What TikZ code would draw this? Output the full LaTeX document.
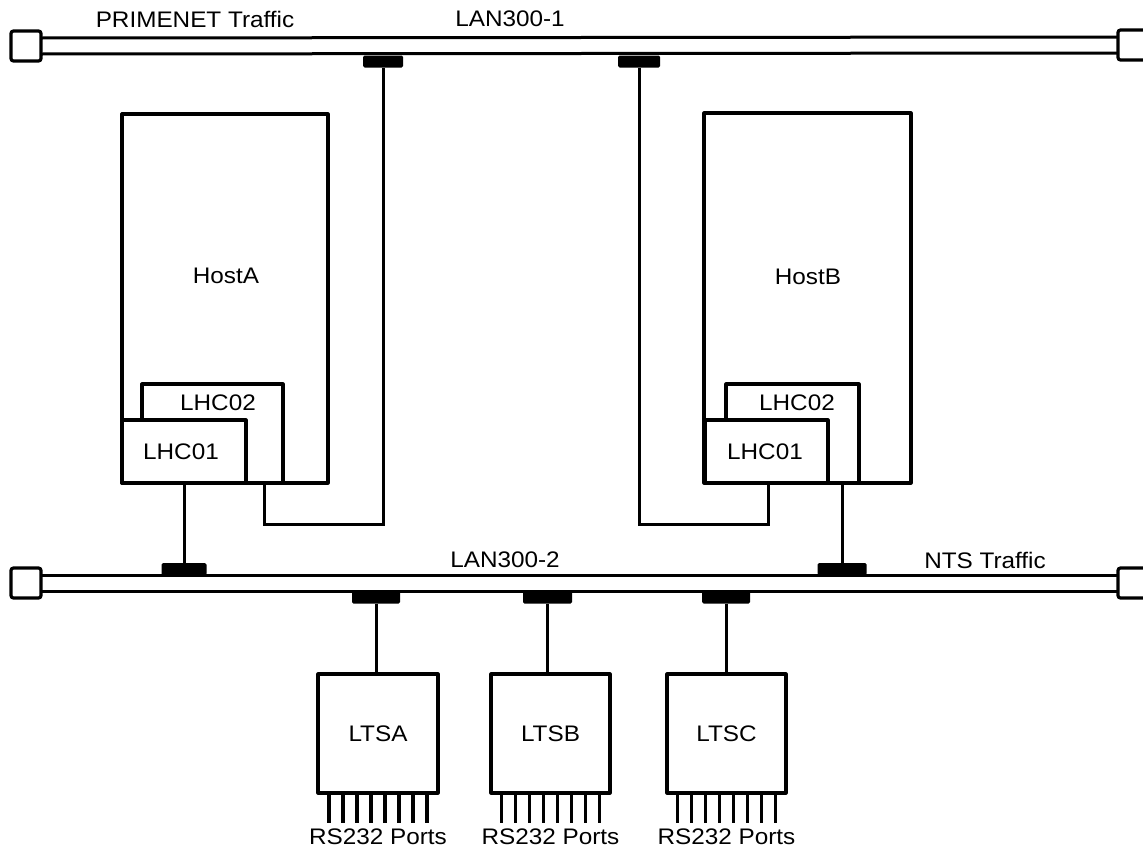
\documentclass[tikz,border=0pt]{standalone}
\usepackage{fontspec}
\setmainfont[FakeStretch=1.08]{Liberation Sans}
\begin{document}
\begin{tikzpicture}[x=1pt,y=-1pt,
  line width=3.2pt,
  box/.style={draw, fill=white, rectangle, inner sep=0pt, outer sep=0pt, anchor=north west, line join=round, font=\fontsize{22.5}{25}\selectfont},
  pad/.style={fill=black, rectangle, rounded corners=1.5pt, minimum height=12pt, inner sep=0pt, outer sep=0pt},
  term/.style={draw, fill=white, rectangle, rounded corners=2.5pt, minimum size=30pt, inner sep=0pt, outer sep=0pt},
  lbl/.style={inner sep=0pt, font=\fontsize{22.5}{25}\selectfont},
  wire/.style={line width=3pt},
  pinwire/.style={line width=3.4pt}
]
\useasboundingbox (0,0) rectangle (1143,854);
\clip (0,0) rectangle (1143,854);

% hosts
\node[box, minimum width=206pt, minimum height=369pt] (hostA) at (122,114) {};
\node[box, minimum width=141pt, minimum height=99pt] (lhcAb) at (142,384) {};
\node[box, minimum width=124pt, minimum height=63pt] (lhcAa) at (122,420) {};
\node[lbl] (hostAt) at (226,276) {HostA};
\node[lbl] (lhcAbt) at (218,403) {LHC02};
\node[lbl] (lhcAat) at (181,452) {LHC01};

\node[box, minimum width=207pt, minimum height=370pt] (hostB) at (704,113) {};
\node[box, minimum width=133pt, minimum height=99pt] (lhcBb) at (726,384) {};
\node[box, minimum width=123pt, minimum height=63pt] (lhcBa) at (705,420) {};
\node[lbl] (hostBt) at (808,277) {HostB};
\node[lbl] (lhcBbt) at (797,403) {LHC02};
\node[lbl] (lhcBat) at (765,452) {LHC01};

% terminators
\node[term] (sqTL) at (26,46) {};
\node[term] (sqTR) at (1133,45) {};
\node[term] (sqBL) at (26,583) {};
\node[term] (sqBR) at (1133,583) {};

% buses
\draw[wire] ([yshift=8pt]sqTL.east) -- ([yshift=8pt]sqTR.west);
\draw[wire] ([yshift=-8pt]sqTL.east) -- ([yshift=-8pt]sqTR.west);
\draw[wire] ([yshift=8pt]sqBL.east) -- ([yshift=8pt]sqBR.west);
\draw[wire] ([yshift=-8pt]sqBL.east) -- ([yshift=-8pt]sqBR.west);

% taps
\node[pad, minimum width=40pt] (padT1) at (383,61.5) {};
\node[pad, minimum width=42pt] (padT2) at (639,61.5) {};
\node[pad, minimum width=45pt] (padBA) at (184,569) {};
\node[pad, minimum width=49pt] (padBB) at (842,569) {};
\node[pad, minimum width=48pt] (padL1) at (376,597.5) {};
\node[pad, minimum width=49pt] (padL2) at (547.5,597.5) {};
\node[pad, minimum width=48pt] (padL3) at (726,597.5) {};

% labels
\node[lbl] (lPrime) at (195,19) {PRIMENET Traffic};
\node[lbl] (lLan1) at (510,19) {LAN300-1};
\node[lbl] (lLan2) at (505,560) {LAN300-2};
\node[lbl] (lNts) at (985,560) {NTS Traffic};

% host connectors
\coordinate (tA) at (264,524);
\coordinate (tB) at (768,524);
\draw[wire] (tA |- lhcAb.south) -- (tA) -| (padT1.south);
\draw[wire] (tB |- lhcBa.south) -- (tB) -| (padT2.south);
\draw[wire] (lhcAa.south) -- (padBA.north);
\draw[wire] (padBB.north |- lhcBb.south) -- (padBB.north);

% LTS boxes
\node[box, minimum width=120pt, minimum height=119pt] (ltsA) at (318,674) {LTSA};
\node[box, minimum width=119pt, minimum height=119pt] (ltsB) at (491,674) {LTSB};
\node[box, minimum width=119pt, minimum height=119pt] (ltsC) at (667,674) {LTSC};

\draw[wire] (padL1.south) -- (padL1.south |- ltsA.north);
\draw[wire] (padL2.south) -- (padL2.south |- ltsB.north);
\draw[wire] (padL3.south) -- (padL3.south |- ltsC.north);

\foreach \b in {ltsA,ltsB,ltsC}{
  \foreach \i in {-3.5,-2.5,...,3.5}{
    \draw[pinwire] ([xshift=\i*14pt]\b.south) -- ++(0,30);
  }
  \node[lbl] at ([yshift=-44pt]\b.south) {RS232 Ports};
}
\end{tikzpicture}
\end{document}
